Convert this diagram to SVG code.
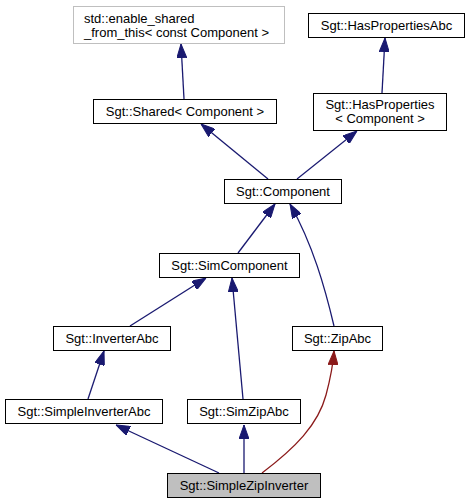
<svg xmlns="http://www.w3.org/2000/svg" width="470" height="503" viewBox="0 0 470 503">
<style>
.box{fill:#fff;stroke:#000;stroke-width:1}
.t{font-family:"Liberation Sans",Arial,sans-serif;font-size:13px;fill:#000;text-anchor:middle}
.e{fill:none;stroke:#191970;stroke-width:1.3}
.r{fill:none;stroke:#8b1a1a;stroke-width:1.3}
</style>
<defs>
<marker id="ab" viewBox="0 0 14 10" refX="14" refY="5" markerWidth="14" markerHeight="10" markerUnits="userSpaceOnUse" orient="auto">
<path d="M0,0 L14,5 L0,10 z" fill="#191970" stroke="#191970"/>
</marker>
<marker id="ar" viewBox="0 0 14 10" refX="14" refY="5" markerWidth="14" markerHeight="10" markerUnits="userSpaceOnUse" orient="auto">
<path d="M0,0 L14,5 L0,10 z" fill="#8b1a1a" stroke="#8b1a1a"/>
</marker>
</defs>
<rect width="470" height="503" fill="#fff"/>
<g id="edges">
<path class="e" d="M184,99 L181,44" marker-end="url(#ab)"/>
<path class="e" d="M382,93 L385,38" marker-end="url(#ab)"/>
<path class="e" d="M268,179 L201,124" marker-end="url(#ab)"/>
<path class="e" d="M297,179 L357,131" marker-end="url(#ab)"/>
<path class="e" d="M238,253 L275,204" marker-end="url(#ab)"/>
<path class="e" d="M334,326 C325,288 313,245 290,204" marker-end="url(#ab)"/>
<path class="e" d="M130,326 L206,278" marker-end="url(#ab)"/>
<path class="e" d="M243,399 L232,278" marker-end="url(#ab)"/>
<path class="e" d="M88,399 L104,351" marker-end="url(#ab)"/>
<path class="e" d="M219,473 L116,425" marker-end="url(#ab)"/>
<path class="e" d="M244,473 L244,425" marker-end="url(#ab)"/>
<path class="r" d="M262,473 C295,448 318,425 326,395 C330,380 333,366 334,351" marker-end="url(#ar)"/>
</g>
<g id="enable_shared">
<rect x="73.5" y="6.5" width="211" height="37" fill="#fff" stroke="#bfbfbf"/>
<text class="t" x="84" y="23" style="text-anchor:start">std::enable_shared</text>
<text class="t" x="84" y="37" style="text-anchor:start">_from_this&lt; const Component &gt;</text>
</g>
<g id="HasPropertiesAbc">
<rect class="box" x="308.5" y="13.5" width="156" height="24"/>
<text class="t" x="386.5" y="30">Sgt::HasPropertiesAbc</text>
</g>
<g id="Shared">
<rect class="box" x="93.5" y="99.5" width="183" height="24"/>
<text class="t" x="185" y="116">Sgt::Shared&lt; Component &gt;</text>
</g>
<g id="HasProperties">
<rect class="box" x="313.5" y="93.5" width="133" height="37"/>
<text class="t" x="380" y="109">Sgt::HasProperties</text>
<text class="t" x="380" y="123">&lt; Component &gt;</text>
</g>
<g id="Component">
<rect class="box" x="224.5" y="179.5" width="117" height="24"/>
<text class="t" x="283" y="196">Sgt::Component</text>
</g>
<g id="SimComponent">
<rect class="box" x="159.5" y="253.5" width="140" height="24"/>
<text class="t" x="229.5" y="270">Sgt::SimComponent</text>
</g>
<g id="InverterAbc">
<rect class="box" x="53.5" y="326.5" width="117" height="24"/>
<text class="t" x="112" y="343">Sgt::InverterAbc</text>
</g>
<g id="ZipAbc">
<rect class="box" x="292.5" y="326.5" width="90" height="24"/>
<text class="t" x="337.5" y="343">Sgt::ZipAbc</text>
</g>
<g id="SimpleInverterAbc">
<rect class="box" x="5.5" y="399.5" width="157" height="24"/>
<text class="t" x="84" y="416">Sgt::SimpleInverterAbc</text>
</g>
<g id="SimZipAbc">
<rect class="box" x="187.5" y="399.5" width="113" height="24"/>
<text class="t" x="244" y="416">Sgt::SimZipAbc</text>
</g>
<g id="SimpleZipInverter">
<rect x="167.5" y="473.5" width="153" height="24" fill="#bfbfbf" stroke="#000"/>
<text class="t" x="244" y="490">Sgt::SimpleZipInverter</text>
</g>
</svg>
